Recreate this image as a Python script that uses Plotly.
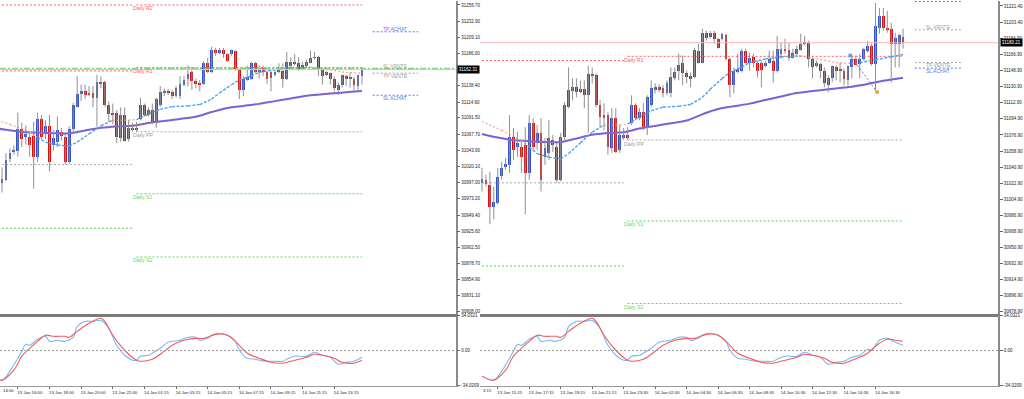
import plotly.graph_objects as go

# ---------------- data (US30, 15-minute candles, shared by both snapshots) ----------------
opens = [31023.5, 31026.8, 31021.2, 30995.7, 31001.2, 31031.3, 31041.3, 31043.5, 31074.6, 31063.5,
         31063.5, 31065.7, 31034.6, 31090.2, 31067.9, 31079.1, 31052.4, 31056.8, 31071.3, 31063.5,
         31026.8, 31074.6, 31108.0, 31125.8, 31130.2, 31128.0, 31128.0, 31121.3, 31142.4, 31143.6,
         31110.2, 31099.1, 31099.1, 31062.4, 31095.7, 31060.2, 31073.5, 31076.8, 31090.2, 31110.2,
         31095.7, 31102.4, 31084.6, 31110.2, 31128.0, 31130.2, 31129.1, 31123.5, 31123.5, 31140.2,
         31148.0, 31158.0, 31145.8, 31142.4, 31141.3, 31171.4, 31158.0, 31191.4, 31186.9, 31191.4,
         31184.7, 31184.7, 31189.2, 31162.5, 31132.4, 31146.9, 31149.1, 31171.4, 31158.0, 31164.7,
         31158.0, 31158.0, 31154.7, 31158.0, 31160.2, 31148.0, 31168.0, 31173.6, 31172.5, 31163.6,
         31168.0, 31172.5, 31179.1, 31180.3, 31162.5, 31154.7, 31156.9, 31148.0, 31132.4, 31140.2,
         31152.5, 31148.0, 31148.0, 31138.0, 31152.5, 31162.5, 31156.9, 31162.5, 31171.4, 31176.9,
         31156.9, 31197.0, 31210.3, 31196.9, 31195.8, 31179.1, 31179.1, 31186.9]
highs = [31040.1, 31032.4, 31035.7, 31019.0, 31040.1, 31046.8, 31051.3, 31099.1, 31084.6, 31080.2,
         31071.3, 31085.7, 31099.1, 31095.7, 31088.0, 31095.7, 31073.5, 31093.5, 31076.8, 31067.9,
         31079.1, 31113.5, 31152.5, 31140.2, 31140.2, 31138.0, 31138.0, 31154.7, 31152.5, 31145.8,
         31115.8, 31112.4, 31102.4, 31106.9, 31106.9, 31088.0, 31084.6, 31085.7, 31121.3, 31112.4,
         31106.9, 31112.4, 31121.3, 31138.0, 31134.7, 31133.6, 31132.4, 31138.0, 31152.5, 31152.5,
         31168.0, 31165.8, 31149.1, 31146.9, 31174.7, 31179.1, 31195.8, 31193.6, 31193.6, 31193.6,
         31185.8, 31191.4, 31190.3, 31163.6, 31152.5, 31168.0, 31173.6, 31173.6, 31169.1, 31168.0,
         31160.2, 31160.2, 31160.2, 31171.4, 31171.4, 31188.0, 31180.3, 31184.7, 31180.3, 31173.6,
         31176.9, 31190.3, 31188.0, 31182.5, 31163.6, 31160.2, 31158.0, 31152.5, 31143.6, 31154.7,
         31154.7, 31158.0, 31151.3, 31154.7, 31165.8, 31165.8, 31168.0, 31174.7, 31182.5, 31179.1,
         31224.7, 31219.2, 31219.2, 31215.8, 31202.5, 31191.4, 31190.3, 31195.8]
lows = [31013.5, 31019.0, 30976.8, 30982.3, 30999.0, 31026.8, 31037.9, 31034.6, 31049.0, 31052.4,
        31034.6, 30987.9, 31026.8, 31060.2, 31060.2, 31013.5, 31043.5, 31049.0, 31057.9, 31023.5,
        31024.6, 31071.3, 31106.9, 31115.8, 31119.1, 31123.5, 31106.9, 31079.1, 31134.7, 31108.0,
        31085.7, 31082.4, 31054.6, 31056.8, 31056.8, 31056.8, 31071.3, 31071.3, 31088.0, 31093.5,
        31093.5, 31082.4, 31076.8, 31108.0, 31123.5, 31124.7, 31119.1, 31121.3, 31119.1, 31138.0,
        31138.0, 31132.4, 31134.7, 31130.2, 31140.2, 31156.9, 31156.9, 31182.5, 31184.7, 31179.1,
        31173.6, 31182.5, 31160.2, 31119.1, 31123.5, 31145.8, 31146.9, 31156.9, 31149.1, 31152.5,
        31141.3, 31130.2, 31152.5, 31156.9, 31135.8, 31146.9, 31162.5, 31168.0, 31160.2, 31162.5,
        31165.8, 31171.4, 31176.9, 31152.5, 31140.2, 31152.5, 31140.2, 31130.2, 31124.7, 31135.8,
        31138.0, 31135.8, 31132.4, 31132.4, 31140.2, 31154.7, 31140.2, 31160.2, 31169.1, 31154.7,
        31126.9, 31190.3, 31193.6, 31191.4, 31135.8, 31152.5, 31152.5, 31173.6]
closes = [31027.9, 31022.3, 30995.7, 31002.3, 31030.1, 31040.1, 31044.6, 31074.6, 31060.2, 31067.9,
          31052.4, 31034.6, 31090.2, 31063.5, 31079.1, 31026.8, 31062.4, 31073.5, 31065.7, 31026.8,
          31074.6, 31110.2, 31126.9, 31130.2, 31124.7, 31124.7, 31121.3, 31144.7, 31144.7, 31110.2,
          31096.9, 31096.9, 31063.5, 31095.7, 31057.9, 31076.8, 31076.8, 31073.5, 31110.2, 31095.7,
          31102.4, 31084.6, 31119.1, 31129.1, 31130.2, 31128.0, 31123.5, 31134.7, 31141.3, 31146.9,
          31155.8, 31145.8, 31141.3, 31140.2, 31172.5, 31158.0, 31191.4, 31185.8, 31191.4, 31184.7,
          31174.7, 31190.3, 31162.5, 31132.4, 31149.1, 31151.3, 31171.4, 31158.0, 31163.6, 31158.0,
          31149.1, 31150.2, 31158.0, 31162.5, 31148.0, 31173.6, 31173.6, 31171.4, 31163.6, 31169.1,
          31173.6, 31179.1, 31180.3, 31162.5, 31152.5, 31158.0, 31148.0, 31134.7, 31140.2, 31153.6,
          31148.0, 31151.3, 31139.1, 31153.6, 31162.31, 31155.8, 31162.5, 31173.6, 31176.9, 31156.9,
          31199.2, 31210.3, 31196.9, 31194.7, 31179.1, 31185.8, 31189.2, 31180.21]

LEFT_LAST_IDX = 94          # last candle of the left (earlier) snapshot

slow_ma_idx = [0, 4, 8, 12, 16, 20, 24, 28, 32, 36, 40, 44, 48, 52, 56, 60, 64, 68, 72, 76, 80, 84,
               88, 92, 94, 98, 102, 107]
slow_ma_val = [31078, 31074, 31071, 31070, 31069, 31069, 31073, 31077, 31079, 31080, 31084, 31087,
               31090, 31093, 31100, 31106, 31109, 31112, 31116, 31120, 31124, 31126, 31128, 31130,
               31131, 31134, 31137.5, 31141]

fast_ma_idx = [0, 5, 10, 12, 14, 17, 20, 22, 25, 28, 31, 34, 37, 40, 43, 46, 50, 53, 56, 58, 61, 63,
               66, 68, 72, 76, 81, 86, 90, 94, 96, 100, 104, 107]
fast_ma_val = [31092, 31082, 31071, 31063, 31056, 31052, 31050, 31056, 31068, 31080, 31088, 31088,
               31089, 31097, 31104, 31108, 31109, 31111, 31119, 31128, 31140, 31147, 31153, 31158,
               31162, 31164.5, 31165.5, 31161.5, 31158, 31157, 31158, 31161, 31164.5, 31167]
fast_ma_falling = [(0, 12), (31, 37), (81, 96)]

stoch_k_idx = [0, 3, 5, 7, 8, 9, 10, 12, 14, 15, 17, 19, 21, 22, 24, 26, 28, 30, 32, 34, 36, 37, 38,
               40, 41, 43, 45, 46, 48, 50, 52, 53, 55, 56, 58, 60, 62, 63, 65, 67, 68, 70, 72, 74,
               75, 77, 80, 82, 84, 86, 88, 90, 92, 94, 96, 98, 99, 101, 103, 105, 107]
stoch_k = [-24.9, -28.8, -20.1, -7.5, -0.7, 6.1, 5.1, 11.0, 13.9, 9.0, 10.0, 9.0, 12.9, 23.6, 28.4,
           28.4, 29.4, 21.7, 5.1, -4.6, -9.4, -9.4, -5.5, -4.6, -2.6, 2.2, 8.1, 9.0, 10.0, 12.9, 12.9,
           10.0, 11.9, 14.9, 16.8, 14.9, 9.0, 0.3, -7.5, -8.4, -9.4, -10.4, -10.4, -10.4, -8.4, -5.5,
           -5.5, -1.7, -4.6, -6.5, -13.3, -11.4, -10.4, -6.5, -4.6, 1.3, 0.3, 10.0, 11.9, 8.1, 5.1]
stoch_d_idx = [0, 3, 6, 8, 10, 12, 14, 16, 19, 20, 22, 25, 28, 29, 31, 34, 37, 38, 41, 44, 46, 49,
               52, 54, 57, 60, 62, 65, 68, 71, 74, 76, 80, 82, 84, 87, 89, 92, 94, 96, 98, 100, 103,
               105, 107]
stoch_d = [-24.9, -28.8, -19.1, -5.5, 2.2, 9.0, 14.9, 13.9, 13.9, 12.9, 18.7, 26.5, 31.4, 28.4, 14.9,
           0.3, -9.4, -10.4, -8.4, -0.7, 5.1, 10.0, 11.9, 11.9, 15.8, 14.9, 9.0, -2.6, -7.5, -11.4,
           -12.3, -10.4, -6.5, -3.6, -4.6, -7.5, -11.4, -12.3, -9.5, -6.5, -2.6, 4.2, 11.0, 10.0, 9.0]

# daily pivot levels (today) and yesterday's levels
pivot_names = ["Daily R2", "Daily R1", "Daily PP", "Daily S1", "Daily S2"]
pivot_values = [31256.7, 31165.0, 31071.2, 30980.5, 30888.0]
pivot_kinds = ["r", "r", "p", "s", "s"]
prev_pivot_values = [31256.7, 31160.2, 31023.2, 30930.0]
prev_pivot_kinds = ["r", "r", "p", "s"]
DAY_START_IDX = 37

# trade levels of each snapshot (label None = label above the visible area)
left_trade_names = ["TP ACHAT", "SL VENTE", "TP VENTE", "SL ACHAT"]
left_trade_values = [31217.5, 31163.3, 31156.9, 31124.6]
right_trade_names = [None, "SL VENTE", "TP VENTE", "SL ACHAT"]
right_trade_values = [31226.4, 31194.7, 31158.0, 31151.7]
right_trade_buy = [True, False, False, True]
left_trade_buy = [True, False, False, True]
left_hline_value = 31164.0

# diagonal projection drawn on the later snapshot
diag_idx = [93.6, 100.4]
diag_val = [31165.8, 31125.0]

# axis ticks
left_y_ticks = [31256.70, 31232.90, 31209.10, 31186.00, 31138.40, 31114.60, 31091.50, 31067.70,
                31043.90, 31020.10, 30997.00, 30973.20, 30949.40, 30925.60, 30902.50, 30878.70,
                30854.90, 30831.10, 30808.00]
right_y_ticks = [31221.40, 31203.40, 31184.90, 31166.90, 31148.90, 31130.90, 31112.90, 31094.90,
                 31076.90, 31058.90, 31040.90, 31022.90, 31004.90, 30986.90, 30968.90, 30950.90,
                 30932.90, 30914.90, 30896.90, 30878.90]
stoch_ticks = [34.0321, 0.0, -34.0209]
stoch_tick_text = ["34.0321", "0.00", "-34.0209"]
left_x_tick_idx = [7, 15, 23, 31, 39, 47, 55, 63, 71, 79, 87]
left_x_tick_text = ["13 Jan 16:00", "13 Jan 18:00", "13 Jan 20:00", "13 Jan 22:00", "14 Jan 01:15",
                    "14 Jan 03:15", "14 Jan 05:15", "14 Jan 07:15", "14 Jan 09:15", "14 Jan 11:15",
                    "14 Jan 13:15"]
right_x_tick_idx = [4, 12, 20, 28, 36, 44, 52, 60, 68, 76, 84, 92, 100]
right_x_tick_text = ["13 Jan 15:15", "13 Jan 17:15", "13 Jan 19:15", "13 Jan 21:15", "13 Jan 23:30",
                     "14 Jan 02:30", "14 Jan 04:30", "14 Jan 06:30", "14 Jan 08:30", "14 Jan 10:30",
                     "14 Jan 12:30", "14 Jan 14:30", "14 Jan 16:30"]

# ---------------- styling ----------------
W, H = 1024, 399
FONT = "Liberation Sans"
WICK = "#8f8f8f"
UP = "#3353c8"
DOWN = "#d81010"
COL = {"r": "#ff5c5c", "s": "#5ad65a", "p": "#a8a8a8"}
LBL = {"r": "#ff6060", "s": "#66d866", "p": "#9a9a9a"}
BLUE_LVL = "#5b78e8"
GRAY_LVL = "#a0a0a0"
FAST_UP = "#4aa3f0"
FAST_DN = "#f2a488"
SLOW = "#7d5fd8"
STO_K = "#78b8f5"
STO_D = "#f25c5c"
PRICE_LINE = "#f5b8b8"
DOT = "2px,2px"

fig = go.Figure()


def line(xa, ya, xs, ys, color, width=1, dash=None, shape="linear"):
    fig.add_trace(go.Scatter(x=xs, y=ys, mode="lines", xaxis=xa, yaxis=ya,
                             line=dict(color=color, width=width, dash=dash, shape=shape),
                             hoverinfo="skip", showlegend=False, connectgaps=False))


def panel(xa, ya, xs_, ys_, last_idx, trade_names, trade_values, trade_buy, trade_x0, trade_x1,
          show_r2):
    # yesterday's pivot segments
    for v, k in zip(prev_pivot_values, prev_pivot_kinds):
        line(xa, ya, [0, DAY_START_IDX - 1], [v, v], COL[k], 1, DOT)
    # today's pivot lines
    for name, v, k in zip(pivot_names, pivot_values, pivot_kinds):
        line(xa, ya, [DAY_START_IDX, last_idx], [v, v], COL[k], 1, DOT)
        if name == "Daily R2" and not show_r2:
            continue
        fig.add_annotation(x=DAY_START_IDX - 1.4, y=v, xref=xa, yref=ya, text=name,
                           showarrow=False, xanchor="left", yanchor="middle", yshift=-3.5,
                           font=dict(family=FONT, size=5.2, color=LBL[k]))
    # trade levels
    for name, v, buy in zip(trade_names, trade_values, trade_buy):
        c = BLUE_LVL if buy else GRAY_LVL
        line(xa, ya, [trade_x0, trade_x1], [v, v], c, 1, DOT)
        if name is None:
            continue
        up = name in ("TP ACHAT", "SL VENTE")
        fig.add_annotation(x=(trade_x0 + trade_x1) / 2, y=v, xref=xa, yref=ya, text=name,
                           showarrow=False, xanchor="center", yanchor="middle",
                           yshift=3.2 if up else -2.8,
                           font=dict(family=FONT, size=5, color=c))
    # moving averages
    sx = [i for i in slow_ma_idx if i <= last_idx]
    line(xa, ya, sx, slow_ma_val[:len(sx)], SLOW, 2, None, "spline")
    fx = [i for i in fast_ma_idx if i <= last_idx]
    fv = fast_ma_val[:len(fx)]
    upx, upy, dnx, dny = [], [], [], []
    for j in range(len(fx) - 1):
        falling = any(a <= fx[j] and fx[j + 1] <= b for a, b in fast_ma_falling)
        if falling:
            dnx += [fx[j], fx[j + 1], None]; dny += [fv[j], fv[j + 1], None]
        else:
            upx += [fx[j], fx[j + 1], None]; upy += [fv[j], fv[j + 1], None]
    line(xa, ya, upx, upy, FAST_UP, 1.4, "3px,1.5px")
    line(xa, ya, dnx, dny, FAST_DN, 1.2, "2px,2px")
    # candles: wicks then bodies
    ids = [i for i in range(len(opens)) if i <= last_idx]
    wx, wy = [], []
    for i in ids:
        wx += [i, i, None]; wy += [lows[i], highs[i], None]
    line(xa, ya, wx, wy, WICK, 1)
    for up, col in ((True, UP), (False, DOWN)):
        sel = [i for i in ids if (closes[i] >= opens[i]) == up]
        base = [min(opens[i], closes[i]) for i in sel]
        hgt = [max(abs(closes[i] - opens[i]), 1.1) for i in sel]
        fig.add_trace(go.Bar(x=sel, y=hgt, base=base, width=0.72, xaxis=xa, yaxis=ya,
                             marker=dict(color=col, line=dict(width=0)),
                             hoverinfo="skip", showlegend=False))
    # stochastic
    kx = [i for i in stoch_k_idx if i <= last_idx]
    dx = [i for i in stoch_d_idx if i <= last_idx]
    line(xs_, ys_, kx, stoch_k[:len(kx)], STO_K, 1.1, None, "spline")
    line(xs_, ys_, dx, stoch_d[:len(dx)], STO_D, 1.1, None, "spline")


panel("x", "y", "x2", "y2", LEFT_LAST_IDX, left_trade_names, left_trade_values, left_trade_buy,
      96.7, 108.2, True)
panel("x3", "y3", "x4", "y4", len(opens) - 1, right_trade_names, right_trade_values,
      right_trade_buy, 110, 122, False)

# diagonal projection with end markers (later snapshot only)
line("x3", "y3", diag_idx, diag_val, BLUE_LVL, 1, "2px,2px")
fig.add_trace(go.Scatter(x=diag_idx, y=diag_val, mode="markers", xaxis="x3", yaxis="y3",
                         marker=dict(size=3.5, symbol="square", color=[FAST_UP, "#f0a030"]),
                         hoverinfo="skip", showlegend=False))

# ---------------- layout ----------------
LEFT_DOM = [0, 455.7 / W]
RIGHT_DOM = [480 / W, 998 / W]
MAIN_DOM = [1 - 315 / H, 1]
STO_DOM = [1 - 388 / H, 1 - 316 / H]
tickfont = dict(family=FONT, size=4.5, color="#222")
xfont = dict(family=FONT, size=4.3, color="#222")

common_y = dict(side="right", showgrid=False, zeroline=False, showline=True, linecolor="#8a8a8a",
                linewidth=1.5, ticks="outside", ticklen=3, tickcolor="#666", tickfont=tickfont)
main_x = dict(showgrid=False, zeroline=False, showticklabels=False, ticks="", showline=True,
              linecolor="#7a7a7a", linewidth=3)
sto_x = dict(showgrid=False, zeroline=False, showline=True, linecolor="#9a9a9a", linewidth=1,
             ticks="outside", ticklen=2, tickcolor="#666", tickfont=xfont, tickangle=0,
             ticklabelshift=12)

fig.update_layout(
    width=W, height=H, margin=dict(l=0, r=0, t=0, b=0), showlegend=False,
    paper_bgcolor="white", plot_bgcolor="white", barmode="overlay", bargap=0,
    xaxis=dict(domain=LEFT_DOM, range=[2.49, 117.7], anchor="y", **main_x),
    yaxis=dict(domain=MAIN_DOM, range=[30805.1, 31262.5], anchor="x", tickvals=left_y_ticks,
               tickformat=".2f", **common_y),
    xaxis2=dict(domain=LEFT_DOM, range=[2.49, 117.7], anchor="y2", tickvals=left_x_tick_idx,
                ticktext=left_x_tick_text, **sto_x),
    yaxis2=dict(domain=STO_DOM, range=[-34.6, 35.0], anchor="x2", tickvals=stoch_ticks,
                ticktext=stoch_tick_text, **common_y),
    xaxis3=dict(domain=RIGHT_DOM, range=[-0.51, 131.13], anchor="y3", **main_x),
    yaxis3=dict(domain=MAIN_DOM, range=[30876.7, 31226.96], anchor="x3", tickvals=right_y_ticks,
                tickformat=".2f", **common_y),
    xaxis4=dict(domain=RIGHT_DOM, range=[-0.51, 131.13], anchor="y4", tickvals=right_x_tick_idx,
                ticktext=right_x_tick_text, **sto_x),
    yaxis4=dict(domain=STO_DOM, range=[-34.6, 35.0], anchor="x4", tickvals=stoch_ticks,
                ticktext=stoch_tick_text, **common_y),
)

# zero lines of the oscillator, current-price lines, user line
for xd, yr in (("x2 domain", "y2"), ("x4 domain", "y4")):
    fig.add_shape(type="line", xref=xd, yref=yr, x0=0, x1=1, y0=0, y1=0,
                  line=dict(color="#9a9a9a", width=1, dash="2px,2px"))
fig.add_shape(type="line", xref="x domain", yref="y", x0=0, x1=1, y0=closes[LEFT_LAST_IDX],
              y1=closes[LEFT_LAST_IDX], line=dict(color=PRICE_LINE, width=1))
fig.add_shape(type="line", xref="x3 domain", yref="y3", x0=0, x1=1, y0=closes[-1], y1=closes[-1],
              line=dict(color=PRICE_LINE, width=1))
fig.add_shape(type="line", xref="x domain", yref="y", x0=0, x1=1, y0=left_hline_value,
              y1=left_hline_value, line=dict(color="#66cc66", width=1, dash="6px,2px,2px,2px"))

# current price tags
for xp, yr, v in ((457 / W, "y", closes[LEFT_LAST_IDX]), (999.5 / W, "y3", closes[-1])):
    fig.add_annotation(x=xp, y=v, xref="paper", yref=yr, text=f"{v:.2f}", showarrow=False,
                       xanchor="left", yanchor="middle", bgcolor="black", borderpad=0.8,
                       font=dict(family=FONT, size=4.5, color="white"))

# truncated first time labels at the left edge of each oscillator
for xp, txt in ((1 / W, "14:00"), (481 / W, "3:15")):
    fig.add_annotation(x=xp, y=1 - 392 / H, xref="paper", yref="paper", text=txt, showarrow=False,
                       xanchor="left", yanchor="middle", font=xfont)

fig.write_html("out.html", config={"displayModeBar": False},
               post_script="document.body.style.margin='0px';document.body.style.overflow='hidden';")
